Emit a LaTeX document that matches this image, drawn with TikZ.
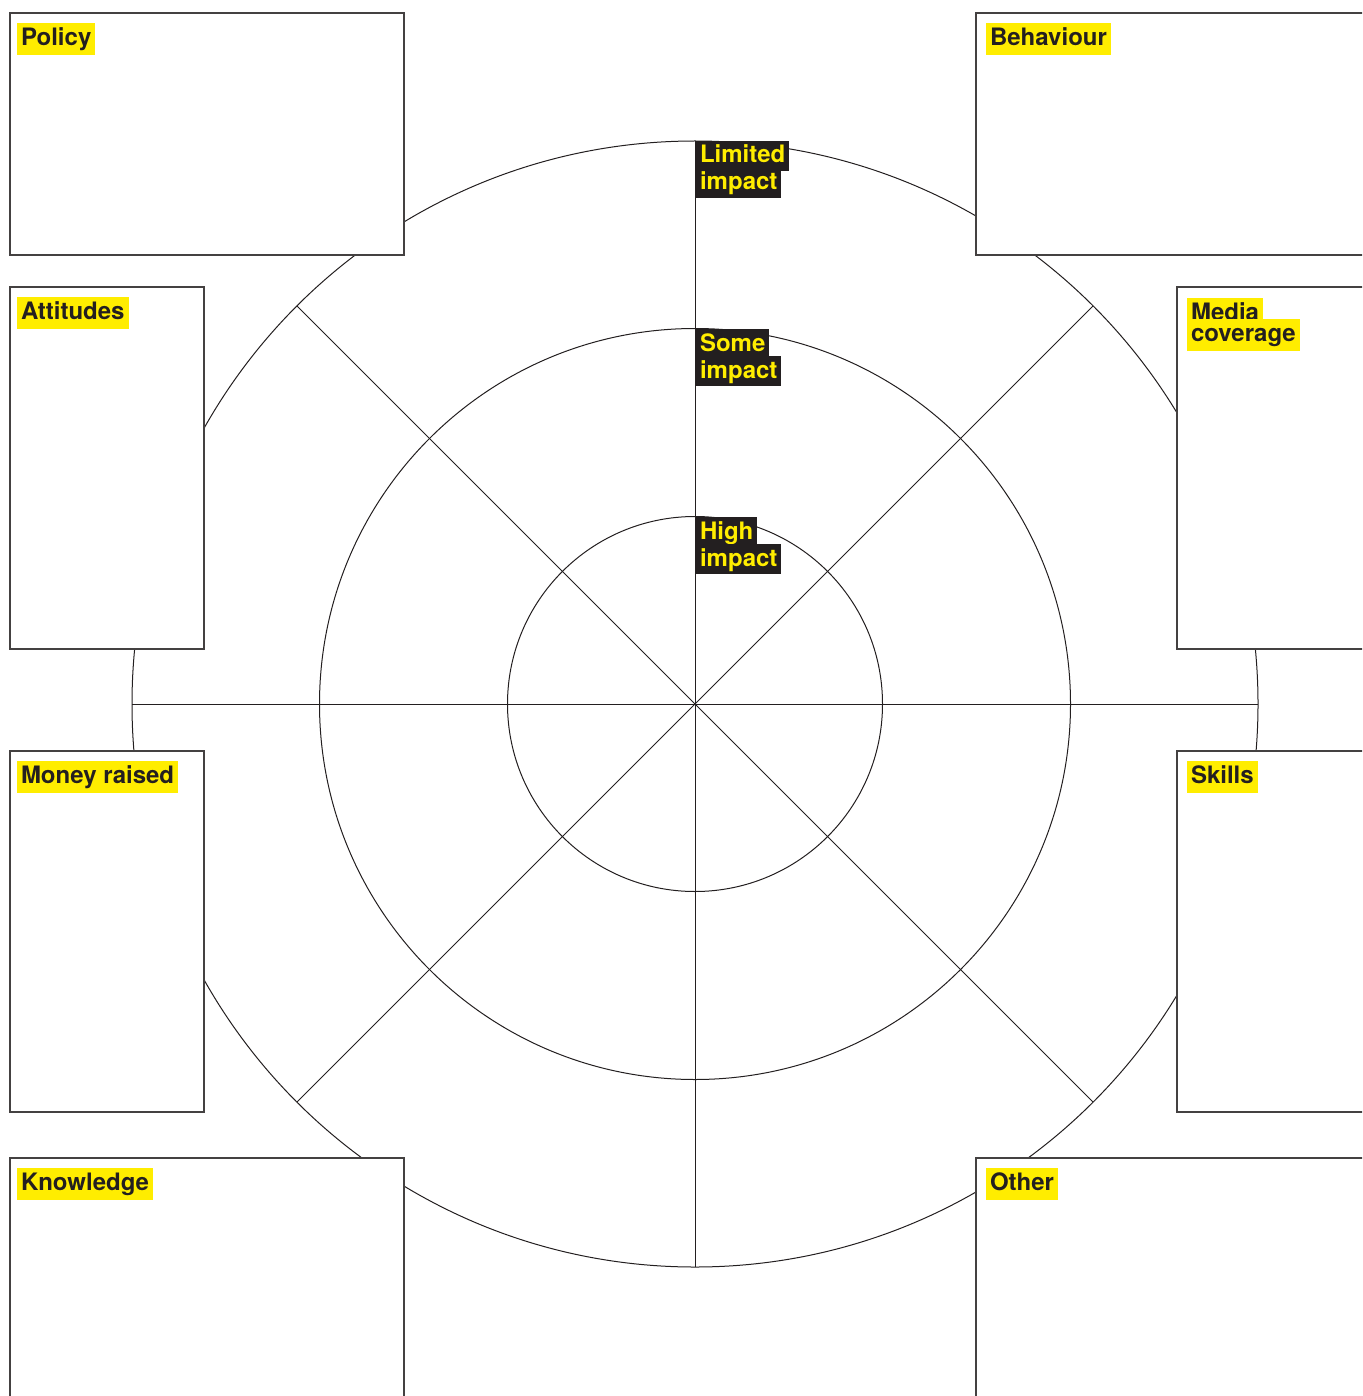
\documentclass[tikz,border=0pt]{standalone}
\usepackage{fontspec}
\setmainfont{TeX Gyre Heros}
\usetikzlibrary{positioning}
\definecolor{hlyellow}{HTML}{FFED00}
\definecolor{inkblack}{HTML}{231F20}
\begin{document}
\begin{tikzpicture}[x=1pt,y=-1pt,
  ring/.style={draw=inkblack,line width=1pt},
  panel/.style={draw=inkblack!85,line width=1.3pt,fill=white,anchor=north west,inner sep=0pt,outer sep=0pt},
  tag/.style={fill=hlyellow,text=inkblack,font=\fontsize{24}{26}\selectfont\bfseries,anchor=north west,
    inner xsep=4pt,inner ysep=4.5pt,text height=18pt,text depth=5pt,outer sep=0pt},
  level/.style={tag,fill=inkblack,text=hlyellow,inner ysep=4pt,text height=18pt,text depth=4pt}]
  \useasboundingbox (0,0) rectangle (1362,1396);
  \clip (0,0) rectangle (1362,1396);
  \coordinate (O) at (695,704);
  \foreach \r in {187.5,375.5,563} \draw[ring] (O) circle (\r pt);
  \foreach \a [count=\i] in {0,45,...,315} {
    \coordinate (S\i) at ([shift={(\a:563pt)}]O);
    \draw[ring] (O) -- (S\i);
  }
  \foreach \n/\x/\y/\w/\h/\dx/\t in {policy/10/13/394/242/7/Policy,behaviour/976/13/400/242/10/Behaviour,
      attitudes/10/287/194/362/7/Attitudes,media/1177/287/200/362/10/{},
      money/10/751/194/361/7/Money raised,skills/1177/751/200/361/10/Skills,
      knowledge/10/1158/394/260/7/Knowledge,other/976/1158/400/260/10/Other} {
    \node[panel,minimum width=\w pt,minimum height=\h pt] (\n) at (\x,\y) {};
    \ifx\t\empty\else
      \node[tag] (\n-tag) at ([shift={(\dx,10)}]\n.north west) {\t};
    \fi
  }
  \node[tag] (media-tag) at ([shift={(10,11)}]media.north west) {Media};
  \node[tag,below right=-11pt and 0pt of media-tag.south west] (media-tag2) {coverage};
  \node[level] (lim1) at (696,141) {Limited};
  \node[level,below right=-3pt and 0pt of lim1.south west] (lim2) {impact};
  \node[level] (some1) at (696,329) {Some};
  \node[level,below right=-3pt and 0pt of some1.south west] (some2) {impact};
  \node[level] (high1) at (696,517) {High};
  \node[level,below right=-3pt and 0pt of high1.south west] (high2) {impact};
\end{tikzpicture}
\end{document}
